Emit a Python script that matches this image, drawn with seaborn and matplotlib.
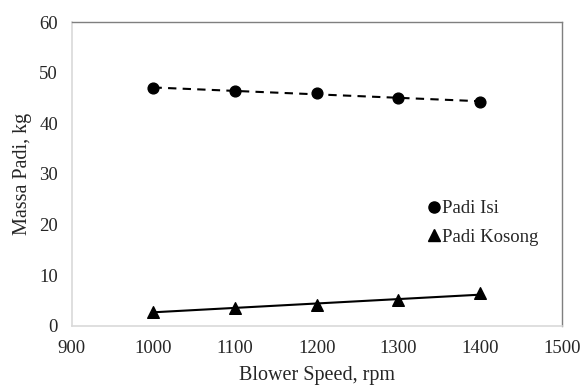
import numpy as np
import pandas as pd
import matplotlib
matplotlib.use("Agg")
import matplotlib.pyplot as plt
import seaborn as sns

# data
blower_speed = [1000, 1100, 1200, 1300, 1400]
padi_isi = [47.0, 46.4, 45.9, 45.0, 44.3]
padi_kosong = [2.8, 3.6, 4.2, 5.1, 6.4]

x_ticks = [900, 1000, 1100, 1200, 1300, 1400, 1500]
y_ticks = [0, 10, 20, 30, 40, 50, 60]

sns.set_style("white")
plt.rcParams["font.family"] = ["Liberation Serif", "DejaVu Serif"]

df = pd.DataFrame({"speed": blower_speed, "isi": padi_isi, "kosong": padi_kosong})

fig = plt.figure(figsize=(5.84, 3.87), dpi=100)
ax = fig.add_axes([0.123, 0.158, 0.839, 0.785])

sns.regplot(data=df, x="speed", y="isi", ax=ax, ci=None, marker="o",
            scatter_kws={"s": 60, "color": "black", "alpha": 1, "zorder": 3},
            line_kws={"color": "black", "lw": 1.5, "ls": (0, (4, 3))},
            label="Padi Isi")
sns.regplot(data=df, x="speed", y="kosong", ax=ax, ci=None, marker="^",
            scatter_kws={"s": 70, "color": "black", "alpha": 1, "zorder": 3},
            line_kws={"color": "black", "lw": 1.5},
            label="Padi Kosong")

ax.set_xlim(900, 1500)
ax.set_ylim(0, 60)
ax.set_xticks(x_ticks)
ax.set_yticks(y_ticks)
ax.tick_params(labelsize=13.5, length=4, width=1, color="#d9d9d9", direction="out",
               pad=6)
ax.tick_params(axis="x", pad=6)
ax.set_xlabel("Blower Speed, rpm", fontsize=14.5, labelpad=7)
ax.set_ylabel("Massa Padi, kg", fontsize=14.5, labelpad=5)

for side in ["left", "bottom"]:
    ax.spines[side].set_color("#d9d9d9")
    ax.spines[side].set_linewidth(1.2)
for side in ["top", "right"]:
    ax.spines[side].set_color("#7f7f7f")
    ax.spines[side].set_linewidth(1.0)
    ax.spines[side].set_visible(True)

# legend shows markers only
handles = [plt.Line2D([], [], ls="none", marker="o", color="black", markersize=8),
           plt.Line2D([], [], ls="none", marker="^", color="black", markersize=8.5)]
ax.legend(handles, ["Padi Isi", "Padi Kosong"], frameon=False, fontsize=13.5,
          loc="upper left", bbox_to_anchor=(0.71, 0.445), handlelength=0.5,
          handletextpad=0.2, labelspacing=0.62, borderpad=0)

fig.savefig("out.png", dpi=100)
